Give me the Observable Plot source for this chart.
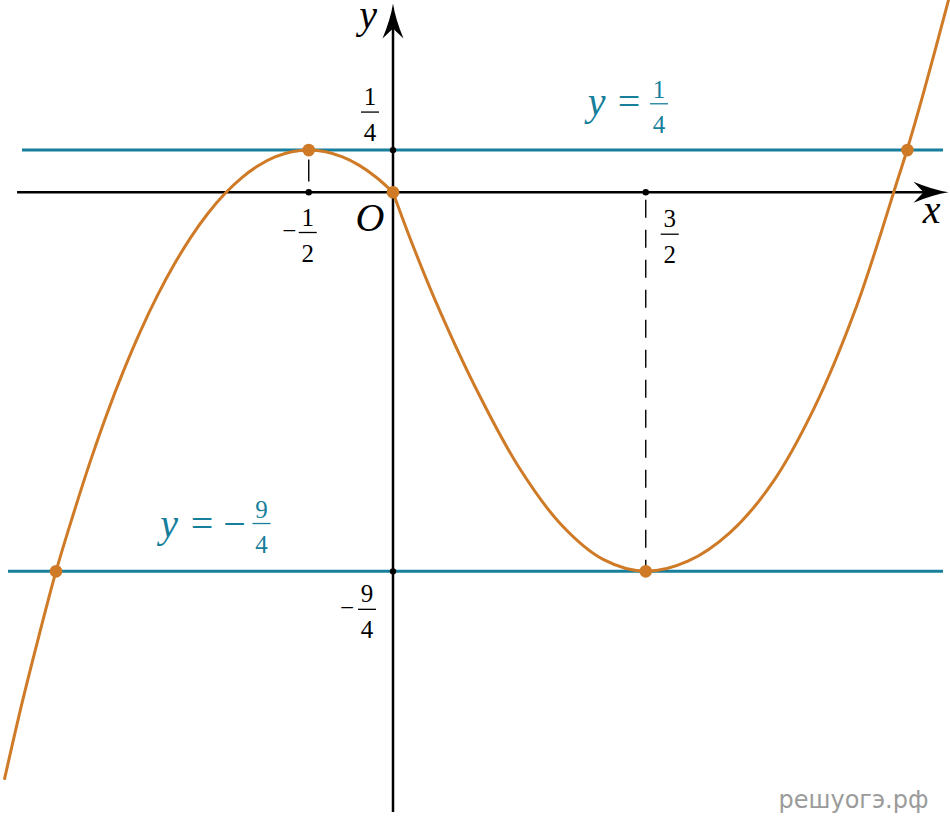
<!DOCTYPE html>
<html>
<head>
<meta charset="utf-8">
<script src="https://cdn.jsdelivr.net/npm/d3@7"></script>
<script src="https://cdn.jsdelivr.net/npm/@observablehq/plot@0.6"></script>
<style>
  html, body { margin: 0; padding: 0; background: #fff; }
</style>
</head>
<body>
<div id="chart"></div>
<script>
// ---- data (in graph units) ----
const leftBranch = [
  [-2.305, -3.48], [-2.2, -3.025], [-2.1, -2.628], [-2.0, -2.25], [-1.9, -1.92],
  [-1.8, -1.608], [-1.7, -1.322], [-1.6, -1.062], [-1.5, -0.827], [-1.4, -0.617],
  [-1.3, -0.431], [-1.2, -0.268], [-1.1, -0.128], [-1.0, -0.011], [-0.9, 0.084],
  [-0.8, 0.157], [-0.7, 0.209], [-0.6, 0.24], [-0.5, 0.25], [-0.4, 0.24],
  [-0.3, 0.209], [-0.2, 0.159], [-0.1, 0.089], [0, 0]
];
const rightBranch = [
  [0, 0], [0.1, -0.27], [0.25, -0.64], [0.5, -1.18], [0.75, -1.637],
  [1.0, -1.975], [1.25, -2.181], [1.5, -2.25], [1.75, -2.19], [2.0, -2.02],
  [2.25, -1.727], [2.5, -1.28], [2.75, -0.68], [3.0, 0.09], [3.053, 0.258],
  [3.15, 0.595], [3.3, 1.152]
];
const keyPoints = [[-0.5, 0.25], [0, 0], [1.5, -2.25], [-2.0, -2.25], [3.053, 0.25]];
const tickPoints = [[0, 0.25], [-0.5, 0], [1.5, 0], [0, -2.25]];
const levelLines = [
  {y: 0.25, x1: -2.199, x2: 3.267},
  {y: -2.25, x1: -2.282, x2: 3.267}
];
const dropLines = [
  {x: -0.5, y1: 0.25, y2: 0},
  {x: 1.5, y1: 0, y2: -2.25}
];
const xAxisExtent = [-2.228, 3.297];
const yAxisExtent = [-3.681, 1.120];
const axisNames = ["x", "y", "O"];
const tickLabels = [
  {x: 0, y: 0.25, sign: "", num: "1", den: "4"},
  {x: -0.5, y: 0, sign: "−", num: "1", den: "2"},
  {x: 1.5, y: 0, sign: "", num: "3", den: "2"},
  {x: 0, y: -2.25, sign: "−", num: "9", den: "4"}
];
const lineLabels = [
  {y: 0.25, name: "y", eq: "=", sign: "", num: "1", den: "4"},
  {y: -2.25, name: "y", eq: "=", sign: "−", num: "9", den: "4"}
];
const watermark = "решуогэ.рф";

// ---- styles ----
const ORANGE = "#cf7a26";
const TEAL = "#177f9c";
const SERIF = "Liberation Serif, Times New Roman, serif";
const UNIT = 168.5, OX = 392.5, OY = 191.7, W = 950, H = 829;

const curveRows = [
  ...leftBranch.map(([x, y]) => ({x, y, branch: "left"})),
  ...rightBranch.map(([x, y]) => ({x, y, branch: "right"}))
];

const barSymbol = {draw(ctx) { ctx.moveTo(-9, 0); ctx.lineTo(9, 0); }};
const arrowSymbol = {draw(ctx) {
  ctx.moveTo(0, 0);
  ctx.quadraticCurveTo(-16, -2.5, -35, -10.5);
  ctx.lineTo(-25, 0);
  ctx.lineTo(-35, 10.5);
  ctx.quadraticCurveTo(-16, 2.5, 0, 0);
  ctx.closePath();
}};

function fraction(data, o) {
  const {x, y, frameAnchor, dx, dy, color = "black", size = 25, numGap = 7, denGap = 29, minusDx} = o;
  const base = {x, y, frameAnchor, fill: color, fontFamily: SERIF, fontSize: size,
                lineAnchor: "bottom", textAnchor: "middle"};
  const marks = [
    Plot.text(data, {...base, text: "num", dx, dy: dy - numGap}),
    Plot.text(data, {...base, text: "den", dx, dy: dy + denGap}),
    Plot.dot(data, {x, y, frameAnchor, dx, dy, symbol: barSymbol, stroke: color, strokeWidth: 1.3, fill: "none"})
  ];
  if (minusDx != null) {
    marks.push(Plot.text(data, {...base, text: "sign", dx: dx + minusDx, dy: dy + size * 0.26}));
  }
  return marks;
}

function lineLabel(d, o) {
  const {nameDx, eqDx, signDx, barDx, baseDy, barDy} = o;
  const base = {y: "y", frameAnchor: "left", fill: TEAL, fontFamily: SERIF, fontSize: 40,
                lineAnchor: "bottom", textAnchor: "middle"};
  const marks = [
    Plot.text([d], {...base, text: "name", fontStyle: "italic", dx: nameDx, dy: baseDy}),
    Plot.text([d], {...base, text: "eq", dx: eqDx, dy: baseDy})
  ];
  if (signDx != null) marks.push(Plot.text([d], {...base, text: "sign", dx: signDx, dy: baseDy}));
  marks.push(...fraction([d], {y: "y", frameAnchor: "left", dx: barDx, dy: barDy, color: TEAL, numGap: 5.5, denGap: 29}));
  return marks;
}

const chart = Plot.plot({
  width: W,
  height: H,
  margin: 0,
  x: {domain: [-OX / UNIT, (W - OX) / UNIT], range: [0, W], axis: null},
  y: {domain: [(OY - H) / UNIT, OY / UNIT], range: [H, 0], axis: null},
  style: {background: "#fff", overflow: "visible"},
  marks: [
    // horizontal level lines
    Plot.ruleY(levelLines, {y: "y", x1: "x1", x2: "x2", stroke: TEAL, strokeWidth: 3}),
    // axes
    Plot.ruleY([0], {x1: xAxisExtent[0], x2: xAxisExtent[1] - 0.1, stroke: "black", strokeWidth: 2.5}),
    Plot.ruleX([0], {y1: yAxisExtent[0], y2: yAxisExtent[1] - 0.1, stroke: "black", strokeWidth: 2.5}),
    Plot.dot([[xAxisExtent[1], 0]], {x: d => d[0], y: d => d[1], symbol: arrowSymbol, fill: "black", stroke: "none"}),
    Plot.dot([[0, yAxisExtent[1]]], {x: d => d[0], y: d => d[1], symbol: arrowSymbol, rotate: -90, fill: "black", stroke: "none"}),
    // dashed drop lines
    Plot.ruleX([dropLines[0]], {x: "x", y1: "y1", y2: "y2", stroke: "black", strokeWidth: 1.4, strokeDasharray: "22,10", strokeDashoffset: 22}),
    Plot.ruleX([dropLines[1]], {x: "x", y1: "y1", y2: "y2", stroke: "black", strokeWidth: 1.4, strokeDasharray: "18,12", strokeDashoffset: 22}),
    // tick dots
    Plot.dot(tickPoints, {x: d => d[0], y: d => d[1], r: 3.2, fill: "black", stroke: "none"}),
    // the curve (two smooth branches meeting at a corner at O)
    Plot.line(curveRows, {x: "x", y: "y", z: "branch", stroke: ORANGE, strokeWidth: 3, curve: "catmull-rom"}),
    // key points
    Plot.dot(keyPoints, {x: d => d[0], y: d => d[1], r: 6.3, fill: ORANGE, stroke: "none"}),
    // axis names
    Plot.text([axisNames[0]], {x: xAxisExtent[1], y: 0, text: d => d, dx: -17, dy: 31, fontFamily: SERIF, fontStyle: "italic", fontSize: 40, lineAnchor: "bottom", textAnchor: "middle", fill: "black"}),
    Plot.text([axisNames[1]], {x: 0, y: yAxisExtent[1], text: d => d, dx: -25, dy: 25, fontFamily: SERIF, fontStyle: "italic", fontSize: 40, lineAnchor: "bottom", textAnchor: "middle", fill: "black"}),
    Plot.text([axisNames[2]], {x: 0, y: 0, text: d => d, dx: -23, dy: 38.5, fontFamily: SERIF, fontStyle: "italic", fontSize: 40, lineAnchor: "bottom", textAnchor: "middle", fill: "black"}),
    // tick fractions
    ...fraction([tickLabels[0]], {x: "x", y: "y", dx: -23, dy: -38}),
    ...fraction([tickLabels[1]], {x: "x", y: "y", dx: -1, dy: 40.3, minusDx: -18.5}),
    ...fraction([tickLabels[2]], {x: "x", y: "y", dx: 24, dy: 42}),
    ...fraction([tickLabels[3]], {x: "x", y: "y", dx: -26, dy: 38, minusDx: -20}),
    // line labels
    ...lineLabel(lineLabels[0], {nameDx: 596, eqDx: 628.5, barDx: 658.5, baseDy: -34.6, barDy: -46.3}),
    ...lineLabel(lineLabels[1], {nameDx: 168.5, eqDx: 201.5, signDx: 234, barDx: 261, baseDy: -34.8, barDy: -47.8}),
    // watermark
    Plot.text([watermark], {frameAnchor: "bottom-right", text: d => d, dx: -22, dy: -22, fontFamily: "DejaVu Sans", fontSize: 24, fill: "#9b9b9b", lineAnchor: "bottom", textAnchor: "end"})
  ]
});
document.getElementById("chart").appendChild(chart);
</script>
</body>
</html>
